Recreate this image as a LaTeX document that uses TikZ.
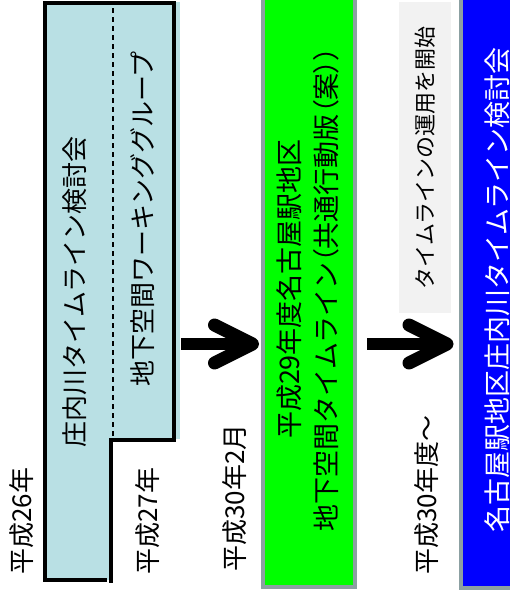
\documentclass[tikz,border=0pt]{standalone}
\usepackage{fontspec}
\setmainfont{Noto Sans CJK JP}
\newfontfamily\jpprop[RawFeature=+palt]{Noto Sans CJK JP}
\newcommand{\lp}{{\jpprop （}}
\newcommand{\rp}{{\jpprop ）}}
\usetikzlibrary{calc}
\definecolor{lblue}{RGB}{185,224,228}
\definecolor{gborder}{RGB}{140,160,162}
\definecolor{vgreen}{RGB}{0,255,0}
\definecolor{vblue}{RGB}{0,0,255}
\definecolor{lgray}{RGB}{242,242,242}
\begin{document}
\begin{tikzpicture}[x=1pt,y=-1pt,
  lbl/.style={rotate=90, inner sep=0pt, font=\fontsize{26}{30}\selectfont},
  shaft/.style={line width=12pt, line cap=butt},
  barb/.style={line width=13pt, line cap=round, line join=round},
  phase/.style={line width=4pt, draw=gborder}]
\useasboundingbox (0,0) rectangle (510,595);
% left shape
\fill[lblue] (46,2) rectangle (180,439);
\fill[lblue] (46,439) rectangle (111,580);
\draw[line width=4pt, line join=miter] (107,580) -- (45,580) -- (45,3) -- (174,3) -- (174,440) -- (111,440) -- (111,583);
\draw[line width=2pt, dash pattern=on 5pt off 4pt] (113,8) -- (113,438);
\node[lbl] (shonai) at (75,292) {庄内川タイムライン検討会};
\node[lbl] (wg) at (143,219) {地下空間ワーキンググループ};
\node[lbl] (h26) at (22,521) {平成26年};
\node[lbl] (h27) at (148,521) {平成27年};
% green box
\node[phase, fill=vgreen, minimum width=92pt, minimum height=590pt, inner sep=0pt, anchor=north west] (green) at (260.5,-5) {};
\node[lbl, align=center, font=\fontsize{27}{37}\selectfont] (gtext) at (308,289) {平成29年度名古屋駅地区\\地下空間タイムライン\lp 共通行動版\lp 案\rp\rp};
\node[lbl] (h30f) at (235,498) {平成30年2月};
% gray box
\node[fill=lgray, minimum width=52pt, minimum height=311pt, inner sep=0pt, anchor=north west] (gray) at (399,2) {};
\node[lbl, font=\fontsize{22}{26}\selectfont] (start) at (425,158) {タイムラインの運用を開始};
\node[lbl] (h30) at (427,495) {平成30年度～};
% blue box
\node[phase, fill=vblue, minimum width=62pt, minimum height=591pt, inner sep=0pt, anchor=north west] (blue) at (459,-5) {};
\node[lbl, text=white, font=\fontsize{27}{30}\selectfont] (btext) at (497,290) {名古屋駅地区庄内川タイムライン検討会};
% arrows
\coordinate (a1s) at (181,344);
\coordinate (a1t) at ($(green.west |- a1s)+(-8,0)$);
\draw[shaft] (a1s) -- (a1t);
\draw[barb] ($(a1t)+(-38,-19)$) -- (a1t) -- ($(a1t)+(-38,19)$);
\coordinate (a2s) at (367,344);
\coordinate (a2t) at ($(blue.west |- a2s)+(-12,0)$);
\draw[shaft] (a2s) -- (a2t);
\draw[barb] ($(a2t)+(-38,-19)$) -- (a2t) -- ($(a2t)+(-38,19)$);
\end{tikzpicture}
\end{document}
